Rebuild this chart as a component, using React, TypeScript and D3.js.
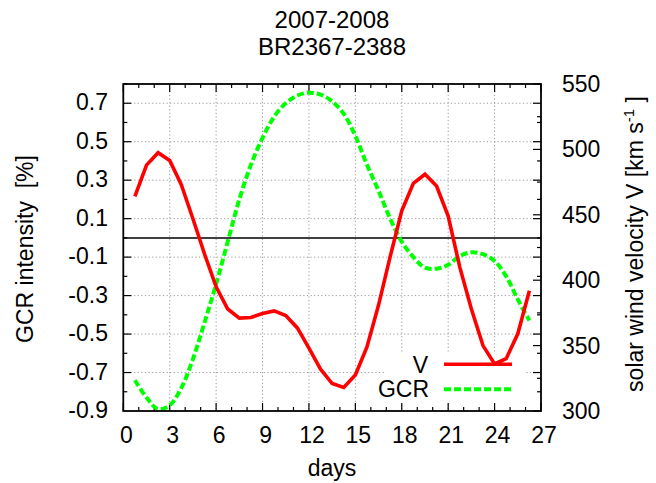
import React from "react";
import * as d3 from "d3";

const W = 656;
const H = 483;

// days sampled every 0.75 day
const days: number[] = [
  0.75, 1.5, 2.25, 3.0, 3.75, 4.5, 5.25, 6.0, 6.75, 7.5, 8.25, 9.0, 9.75, 10.5,
  11.25, 12.0, 12.75, 13.5, 14.25, 15.0, 15.75, 16.5, 17.25, 18.0, 18.75, 19.5,
  20.25, 21.0, 21.75, 22.5, 23.25, 24.0, 24.75, 25.5, 26.25,
];

// solar wind velocity V [km/s] (right axis)
const velocity: number[] = [
  464, 488, 497.5, 491.5, 473, 447, 420, 395, 378, 371, 371.5, 374.5, 376.5, 373,
  363.5, 348, 332, 321, 318, 327.5, 349, 381, 418, 453, 474, 481, 472, 449, 410,
  378, 350, 336, 340, 359, 392,
];

// GCR intensity [%] (left axis)
const gcr: number[] = [
  -0.74, -0.83, -0.89, -0.87, -0.78, -0.63, -0.44, -0.24, -0.02, 0.2, 0.38, 0.52,
  0.63, 0.7, 0.74, 0.755, 0.745, 0.71, 0.645, 0.53, 0.38, 0.245, 0.1, -0.02, -0.1,
  -0.155, -0.16, -0.14, -0.095, -0.075, -0.085, -0.12, -0.2, -0.32, -0.43,
];

const xTickLabels: number[] = [0, 3, 6, 9, 12, 15, 18, 21, 24, 27];
const y1TickLabels: number[] = [-0.9, -0.7, -0.5, -0.3, -0.1, 0.1, 0.3, 0.5, 0.7];
const y2TickLabels: number[] = [300, 350, 400, 450, 500, 550];

const titleLines = ["2007-2008", "BR2367-2388"];

const FONT = "'Liberation Sans', Arial, Helvetica, sans-serif";

export default function App() {
  const left = 123.3;
  const right = 541;
  const top = 84;
  const bottom = 411;

  const x = d3.scaleLinear().domain([0, 27]).range([left, right]);
  const y1 = d3.scaleLinear().domain([-0.9, 0.8]).range([bottom, top]);
  const y2 = d3.scaleLinear().domain([300, 550]).range([bottom, top]);

  const vLine = d3
    .line<number>()
    .x((_, i) => x(days[i]))
    .y((d) => y2(d));
  const gLine = d3
    .line<number>()
    .x((_, i) => x(days[i]))
    .y((d) => y1(d))
    .curve(d3.curveCatmullRom);

  const xMinor = d3.range(0, 28, 1);
  const y1Minor = d3.range(-8, 9, 1).map((v) => v / 10);
  const y2Minor = d3.range(300, 551, 25);

  const majLen = 8;
  const minLen = 4;
  const fs = 23;

  const isMajorX = (v: number) => v % 3 === 0;
  const isMajorY1 = (v: number) =>
    y1TickLabels.some((t) => Math.abs(t - v) < 1e-6);
  const isMajorY2 = (v: number) => v % 50 === 0;

  return (
    <svg
      width={W}
      height={H}
      style={{ position: "absolute", left: 0, top: 0, background: "#fff" }}
      fontFamily={FONT}
    >
      <rect x={0} y={0} width={W} height={H} fill="#fff" />
      {/* title */}
      <text x={332} y={28} textAnchor="middle" fontSize={24} fill="#000">
        {titleLines[0]}
      </text>
      <text x={332} y={55} textAnchor="middle" fontSize={24} fill="#000">
        {titleLines[1]}
      </text>

      {/* grid */}
      <g stroke="#9a9a9a" strokeWidth={1} strokeDasharray="1.2 2.4">
        {xTickLabels
          .filter((v) => v > 0 && v < 27)
          .map((v) => (
            <line key={"gx" + v} x1={x(v)} x2={x(v)} y1={top} y2={bottom} />
          ))}
        {y1TickLabels
          .filter((v) => v > -0.9)
          .map((v) => (
            <line key={"gy" + v} x1={left} x2={right} y1={y1(v)} y2={y1(v)} />
          ))}
      </g>

      {/* opaque key background */}
      <rect x={384} y={354} width={140} height={50} fill="#fff" />

      {/* zero line */}
      <line x1={left} x2={right} y1={y1(0)} y2={y1(0)} stroke="#000" strokeWidth={1.5} />

      {/* ticks */}
      <g stroke="#000" strokeWidth={1.2}>
        {xMinor.map((v) => {
          const l = isMajorX(v) ? majLen : minLen;
          return (
            <g key={"tx" + v}>
              <line x1={x(v)} x2={x(v)} y1={bottom} y2={bottom - l} />
              <line x1={x(v)} x2={x(v)} y1={top} y2={top + l} />
            </g>
          );
        })}
        {y1Minor.map((v) => {
          const l = isMajorY1(v) ? majLen : minLen;
          return (
            <g key={"ty" + v}>
              <line x1={left} x2={left + l} y1={y1(v)} y2={y1(v)} />
              <line x1={right} x2={right - l} y1={y1(v)} y2={y1(v)} />
            </g>
          );
        })}
        {y2Minor.map((v) => {
          const l = isMajorY2(v) ? majLen : minLen;
          return (
            <line key={"ty2" + v} x1={right} x2={right - l} y1={y2(v)} y2={y2(v)} />
          );
        })}
      </g>

      {/* data */}
      <path d={gLine(gcr) || ""} fill="none" stroke="#00ff00" strokeWidth={4} strokeDasharray="7 3" />
      <path d={vLine(velocity) || ""} fill="none" stroke="#ff0000" strokeWidth={3.6} strokeLinejoin="miter" />

      {/* frame */}
      <rect x={left} y={top} width={right - left} height={bottom - top} fill="none" stroke="#000" strokeWidth={1.8} />

      {/* tick labels */}
      <g fontSize={fs} fill="#000">
        {xTickLabels.map((v) => (
          <text key={"lx" + v} x={x(v) + 3} y={443} textAnchor="middle">
            {v}
          </text>
        ))}
        {y1TickLabels.map((v) => (
          <text key={"ly" + v} x={108} y={y1(v) + 7} textAnchor="end">
            {v.toFixed(1)}
          </text>
        ))}
        {y2TickLabels.map((v) => (
          <text key={"ly2" + v} x={562} y={y2(v) + 8} textAnchor="start">
            {v}
          </text>
        ))}
      </g>

      {/* axis labels */}
      <text x={332} y={476} textAnchor="middle" fontSize={fs} fill="#000">
        days
      </text>
      <text
        transform="translate(33,249) rotate(-90)"
        textAnchor="middle"
        fontSize={fs}
        fill="#000"
        style={{ whiteSpace: "pre" }}
      >
        {"GCR intensity\u00a0\u00a0[%]"}
      </text>
      <text
        transform="translate(643,244) rotate(-90)"
        textAnchor="middle"
        fontSize={fs}
        fill="#000"
      >
        solar wind velocity V [km s
        <tspan dy={-9} fontSize={15}>
          -1
        </tspan>
        <tspan dy={9}>{"\u00a0]"}</tspan>
      </text>

      {/* legend */}
      <text x={428} y={373} textAnchor="end" fontSize={fs} fill="#000">
        V
      </text>
      <line x1={444} x2={512} y1={364.3} y2={364.3} stroke="#ff0000" strokeWidth={3.6} />
      <text x={429} y={397} textAnchor="end" fontSize={fs} fill="#000">
        GCR
      </text>
      <line x1={444} x2={512} y1={389.3} y2={389.3} stroke="#00ff00" strokeWidth={4} strokeDasharray="7 3" />
    </svg>
  );
}
